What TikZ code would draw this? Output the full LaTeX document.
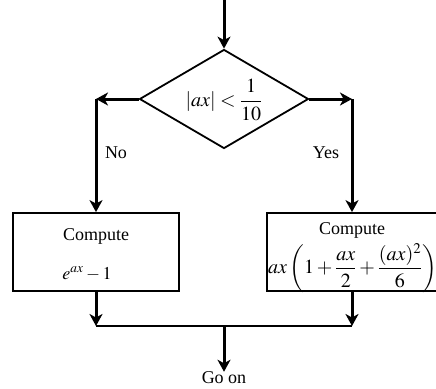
\documentclass[tikz,border=0pt]{standalone}
\usepackage{amsmath}
\usepackage{mathptmx}
\usepackage{fontspec}
\setmainfont{Liberation Serif}
\usetikzlibrary{shapes.geometric,arrows.meta}
\begin{document}
\begin{tikzpicture}[x=1pt,y=-1pt,
  font=\fontsize{18}{21}\selectfont,
  flow/.style={line width=3pt,-{Stealth[length=12pt,width=13pt,inset=3.5pt]}},
  boxstyle/.style={draw,line width=1.8pt,rectangle,minimum width=166pt,minimum height=78pt,inner sep=0pt},
  txt/.style={inner sep=0pt},
  mtxt/.style={inner sep=0pt,font=\fontsize{20}{24}\selectfont}]
\useasboundingbox (0,0) rectangle (436,388);
\clip (0,0) rectangle (436,388);
% decision
\node[draw,line width=1.8pt,diamond,minimum width=169pt,minimum height=99pt,inner sep=0pt] (dec) at (224,99) {};
\node[mtxt] (dectxt) at (224,100) {$|ax| < \dfrac{1}{10}$};
\coordinate (top) at (224,0);
\draw[flow] (top) -- (dec.north);
% branches
\coordinate (L) at (96,99);
\coordinate (R) at (352,99);
\node[boxstyle] (lbox) at (96,252) {};
\node[boxstyle,minimum width=170pt] (rbox) at (352,252) {};
\draw[flow] (dec.west) -- (L);
\draw[flow] (dec.east) -- (R);
\draw[flow] (L) -- (lbox.north);
\draw[flow] (R) -- (rbox.north);
\node[txt] (no) at (116,153) {No};
\node[txt] (yes) at (326,153) {Yes};
% box texts
\node[txt] (lc) at (96,236) {Compute};
\node[txt] (lf) at (87,274) {$e^{ax} - 1$};
\node[txt] (rc) at (352,230) {Compute};
\node[mtxt,anchor=west] (rf) at (268,268) {$ax\left(1+\dfrac{ax}{2}+\dfrac{(ax)^2}{6}\right)$};
% join
\coordinate (BL) at (96,326);
\coordinate (BR) at (352,326);
\coordinate (M) at (224,326);
\draw[flow] (lbox.south) -- (BL);
\draw[flow] (rbox.south) -- (BR);
\draw[line width=2pt] (BL) -- (BR);
\node[txt] (go) at (224,378) {Go on};
\draw[flow] (M) -- (go.north);
\end{tikzpicture}
\end{document}
